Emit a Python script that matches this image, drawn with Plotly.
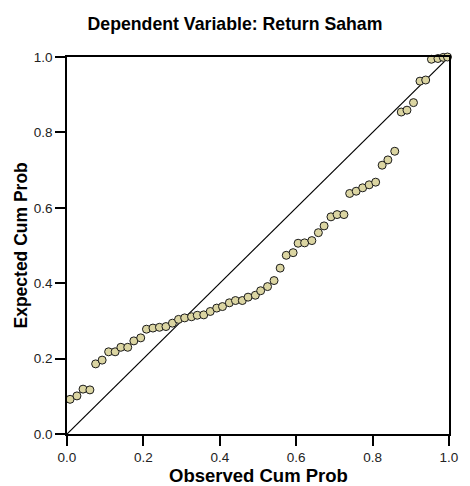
import plotly.graph_objects as go

observed_cum_prob = [
    0.008, 0.026, 0.042, 0.060, 0.075, 0.092, 0.109, 0.126, 0.141, 0.159,
    0.175, 0.193, 0.208, 0.225, 0.242, 0.259, 0.276, 0.292, 0.308, 0.326,
    0.341, 0.358, 0.375, 0.392, 0.407, 0.425, 0.441, 0.459, 0.474, 0.493,
    0.507, 0.525, 0.542, 0.558, 0.574, 0.592, 0.605, 0.622, 0.641, 0.658,
    0.673, 0.691, 0.707, 0.725, 0.740, 0.757, 0.774, 0.791, 0.808, 0.825,
    0.840, 0.858, 0.875, 0.890, 0.907, 0.924, 0.939, 0.954, 0.971, 0.985,
    0.996,
]
expected_cum_prob = [
    0.092, 0.101, 0.119, 0.117, 0.186, 0.196, 0.218, 0.218, 0.230, 0.230,
    0.247, 0.255, 0.278, 0.281, 0.283, 0.285, 0.294, 0.304, 0.308, 0.311,
    0.315, 0.316, 0.325, 0.334, 0.338, 0.348, 0.354, 0.354, 0.363, 0.368,
    0.380, 0.391, 0.407, 0.440, 0.474, 0.481, 0.506, 0.507, 0.513, 0.534,
    0.552, 0.576, 0.582, 0.582, 0.638, 0.644, 0.653, 0.661, 0.668, 0.713,
    0.727, 0.750, 0.854, 0.859, 0.879, 0.936, 0.939, 0.994, 0.996, 0.999,
    1.000,
]
reference_line = [0.0, 1.0]
tick_vals = [0.0, 0.2, 0.4, 0.6, 0.8, 1.0]
tick_text = ["0.0", "0.2", "0.4", "0.6", "0.8", "1.0"]

FONT = "Arial, Liberation Sans, sans-serif"

fig = go.Figure()
fig.add_trace(go.Scatter(
    x=reference_line, y=reference_line, mode="lines",
    line=dict(color="black", width=1.2), hoverinfo="skip", showlegend=False,
))
fig.add_trace(go.Scatter(
    x=observed_cum_prob, y=expected_cum_prob, mode="markers",
    marker=dict(size=8, color="#dbd5a2", line=dict(color="#1a1a1a", width=1)),
    showlegend=False, cliponaxis=False,
))

axis_common = dict(
    range=[0, 1], tickvals=tick_vals, ticktext=tick_text,
    showgrid=False, zeroline=False, showline=True, linecolor="black",
    linewidth=1.5, mirror=True, ticks="outside", ticklen=10, tickwidth=1.5,
    tickcolor="black", tickfont=dict(family=FONT, size=13.5, color="#222"),
)
fig.update_xaxes(**axis_common)
fig.update_yaxes(**axis_common)

fig.update_layout(
    width=470, height=486,
    margin=dict(l=67, r=12, t=57, b=52),
    paper_bgcolor="white", plot_bgcolor="white",
    title=dict(text="<b>Dependent Variable: Return Saham</b>",
               font=dict(family=FONT, size=17.7, color="black"),
               x=235 / 470, xanchor="center", xref="container",
               y=1 - 24 / 486, yanchor="middle", yref="container"),
    annotations=[
        dict(text="<b>Observed Cum Prob</b>", xref="paper", yref="paper",
             x=0.5, y=0, yshift=-41, xanchor="center", yanchor="middle",
             showarrow=False, font=dict(family=FONT, size=18.5, color="black")),
        dict(text="<b>Expected Cum Prob</b>", xref="paper", yref="paper",
             x=0, y=0.5, xshift=-47, xanchor="center", yanchor="middle",
             textangle=-90, showarrow=False,
             font=dict(family=FONT, size=17.5, color="black")),
    ],
)

fig.write_html("out.html")
